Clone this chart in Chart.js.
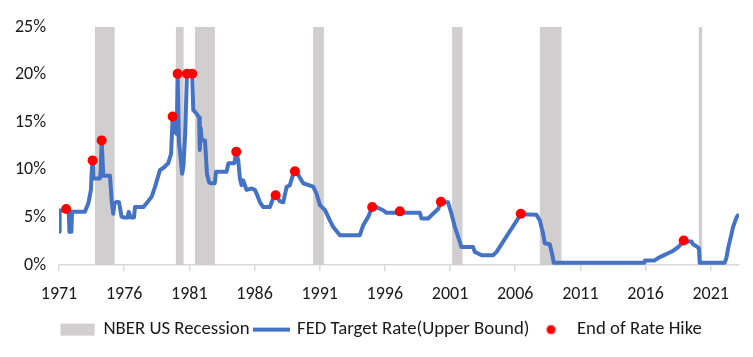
<!DOCTYPE html>
<html><head><meta charset="utf-8">
<script src="https://cdn.jsdelivr.net/npm/chart.js@4.4.0/dist/chart.umd.min.js"></script>
<style>html,body{margin:0;padding:0;background:#fff;}#wrap{width:753px;height:357px;position:relative;}</style>
</head><body><div id="wrap"><canvas id="c"></canvas></div>
<script>
const tickYears = [1971,1976,1981,1986,1991,1996,2001,2006,2011,2016,2021];
const yTicks = [0,5,10,15,20,25];
const recessionStart = [1973.76,1979.97,1981.43,1990.50,2001.16,2007.89,2020.08];
const recessionEnd   = [1975.27,1980.56,1982.96,1991.32,2001.96,2009.55,2020.36];
const fedYears = [1971.00,1971.05,1971.59,1971.75,1971.80,1971.95,1972.00,1972.99,1973.25,1973.45,1973.50,1973.58,1973.65,1974.14,1974.20,1974.27,1974.40,1974.91,1975.04,1975.16,1975.25,1975.42,1975.60,1975.80,1976.00,1976.25,1976.35,1976.50,1976.75,1976.83,1977.47,1977.72,1978.11,1978.36,1978.75,1979.00,1979.38,1979.60,1979.72,1979.84,1980.00,1980.05,1980.10,1980.20,1980.32,1980.45,1980.55,1980.68,1980.82,1981.22,1981.30,1981.55,1981.75,1981.80,1981.87,1981.95,1982.20,1982.35,1982.50,1982.60,1982.95,1983.05,1983.85,1984.00,1984.45,1984.60,1984.75,1984.88,1985.00,1985.13,1985.39,1985.78,1986.03,1986.21,1986.42,1986.67,1987.18,1987.43,1987.62,1987.95,1988.20,1988.46,1988.71,1988.97,1989.10,1989.35,1989.73,1990.50,1990.76,1991.02,1991.40,1991.78,1992.04,1992.55,1994.08,1994.34,1994.72,1995.03,1995.49,1995.87,1996.13,1998.68,1998.81,1999.32,1999.70,2000.09,2000.30,2000.85,2001.11,2001.37,2001.62,2001.88,2002.77,2002.90,2003.42,2004.30,2004.57,2006.43,2007.63,2007.89,2008.14,2008.27,2008.65,2008.86,2008.96,2015.90,2015.96,2016.70,2016.96,2017.34,2017.73,2018.11,2018.50,2018.93,2019.26,2019.52,2019.64,2019.90,2020.10,2020.16,2022.07,2022.20,2022.33,2022.46,2022.59,2022.71,2022.84,2022.97,2023.10,2023.15];
const fedRates = [3.5,5.75,5.75,5.6,3.5,3.5,5.6,5.6,6.5,7.9,9.65,11.0,9.1,9.1,9.8,13.1,9.4,9.4,6.8,5.4,6.5,6.65,6.6,5.1,5.0,5.0,5.6,5.0,5.0,6.1,6.1,6.5,7.2,8.2,10.0,10.2,10.7,11.7,15.6,14.2,13.8,15.0,20.1,13.0,11.4,9.6,10.5,13.8,20.1,20.1,16.3,15.9,15.5,12.1,14.4,13.1,13.1,9.6,8.75,8.6,8.6,9.8,9.8,10.7,10.7,11.9,11.0,9.1,8.4,8.9,7.9,8.05,7.9,7.35,6.6,6.1,6.1,7.0,7.35,6.7,6.6,8.2,8.4,9.6,9.85,9.5,8.6,8.25,7.5,6.3,5.8,4.7,4.0,3.15,3.15,4.2,5.07,6.1,6.0,5.77,5.5,5.5,4.9,4.9,5.4,5.9,6.6,6.6,5.4,4.0,3.0,1.9,1.9,1.4,1.05,1.05,1.4,5.35,5.3,4.7,3.3,2.3,2.2,1.0,0.25,0.25,0.5,0.5,0.75,1.0,1.25,1.5,1.9,2.5,2.5,2.5,2.2,2.0,1.75,0.25,0.25,0.75,1.75,2.5,3.25,4.0,4.5,5.0,5.25,5.3];
const hikeYears = [1971.55,1973.58,1974.27,1979.72,1980.10,1980.82,1981.22,1984.60,1987.62,1989.10,1995.03,1997.15,2000.30,2006.43,2018.93];
const hikeRates = [5.9,11.0,13.1,15.6,20.1,20.1,20.1,11.9,7.35,9.85,6.1,5.65,6.65,5.4,2.6];
const seriesNames = ['NBER US Recession','FED Target Rate(Upper Bound)','End of Rate Hike'];

const yTop = yTicks[yTicks.length-1];
const recData = [];
recessionStart.forEach((s,i)=>{
  const e = recessionEnd[i];
  recData.push({x:s,y:0},{x:s,y:yTop},{x:e,y:yTop},{x:e,y:0});
});
const fedData = fedYears.map((x,i)=>({x, y: fedRates[i]}));
const hikeData = hikeYears.map((x,i)=>({x, y: hikeRates[i]}));

const GRAY = '#D0CECE', BLUE = '#4472C4', RED = '#FF0000';
function symbol(kind){
  const cv = document.createElement('canvas');
  cv.width = 37; cv.height = 14;
  const g = cv.getContext('2d');
  if (kind === 'box'){ g.fillStyle = GRAY; g.fillRect(1.5,1,34,12); }
  else if (kind === 'line'){ g.strokeStyle = BLUE; g.lineWidth = 4; g.beginPath(); g.moveTo(0,7); g.lineTo(37,7); g.stroke(); }
  else { g.fillStyle = RED; g.beginPath(); g.arc(18.5,7,4.5,0,Math.PI*2); g.fill(); }
  return cv;
}
const symbols = [symbol('box'), symbol('line'), symbol('dot')];
const FONT = "Carlito, Lato, 'Liberation Sans', sans-serif";
const TXT = '#1a1a1a';

const legendShift = {
  id: 'legendShift',
  afterLayout(chart){ const l = chart.legend; if (l){ l.left += 12; l.right += 12; } }
};

new Chart(document.getElementById('c'), {
  type: 'line',
  plugins: [legendShift],
  data: {
    datasets: [
      { label: seriesNames[2], data: hikeData, showLine: false, pointRadius: 5, pointHoverRadius: 5,
        pointBackgroundColor: RED, pointBorderWidth: 0, backgroundColor: RED, borderColor: RED, order: 1 },
      { label: seriesNames[1], data: fedData, borderColor: BLUE, borderWidth: 4, pointRadius: 0,
        tension: 0, borderJoinStyle: 'round', fill: false, order: 2 },
      { label: seriesNames[0], data: recData, borderWidth: 0, pointRadius: 0, backgroundColor: GRAY,
        borderColor: GRAY, fill: 'origin', tension: 0, order: 3 }
    ]
  },
  options: {
    responsive: true, maintainAspectRatio: false, animation: false,
    layout: { padding: { top: 27, right: 14, bottom: 8, left: 0 } },
    plugins: {
      tooltip: { enabled: false },
      legend: {
        position: 'bottom',
        labels: {
          font: { family: FONT, size: 18.8 }, color: TXT,
          usePointStyle: true, pointStyleWidth: 33, boxHeight: 12, padding: 5,
          generateLabels: (chart) => [2,1,0].map((di,k)=>({
            text: seriesNames[k], datasetIndex: di, pointStyle: symbols[k],
            fillStyle: 'rgba(0,0,0,0)', strokeStyle: 'rgba(0,0,0,0)', lineWidth: 0,
            fontColor: TXT, hidden: false
          }))
        }
      }
    },
    scales: {
      x: {
        type: 'linear', min: 1971, max: 2023.17,
        afterBuildTicks: s => { s.ticks = tickYears.map(v => ({ value: v })); },
        afterFit: s => { s.height = 50; },
        grid: { display: true, drawOnChartArea: false, drawTicks: true, tickLength: 6, color: '#D9D9D9', lineWidth: 1.5 },
        border: { display: true, color: '#D9D9D9', width: 1.5 },
        ticks: { padding: 12, color: TXT, font: { family: FONT, size: 18 }, maxRotation: 0, autoSkip: false,
                 callback: v => String(v) }
      },
      y: {
        min: 0, max: yTop,
        afterBuildTicks: s => { s.ticks = yTicks.map(v => ({ value: v })); },
        afterFit: s => { s.width = 59; },
        grid: { display: false, drawTicks: false },
        border: { display: false },
        ticks: { padding: 13, color: TXT, font: { family: FONT, size: 18 }, callback: v => v + '%' }
      }
    }
  }
});
</script></body></html>
